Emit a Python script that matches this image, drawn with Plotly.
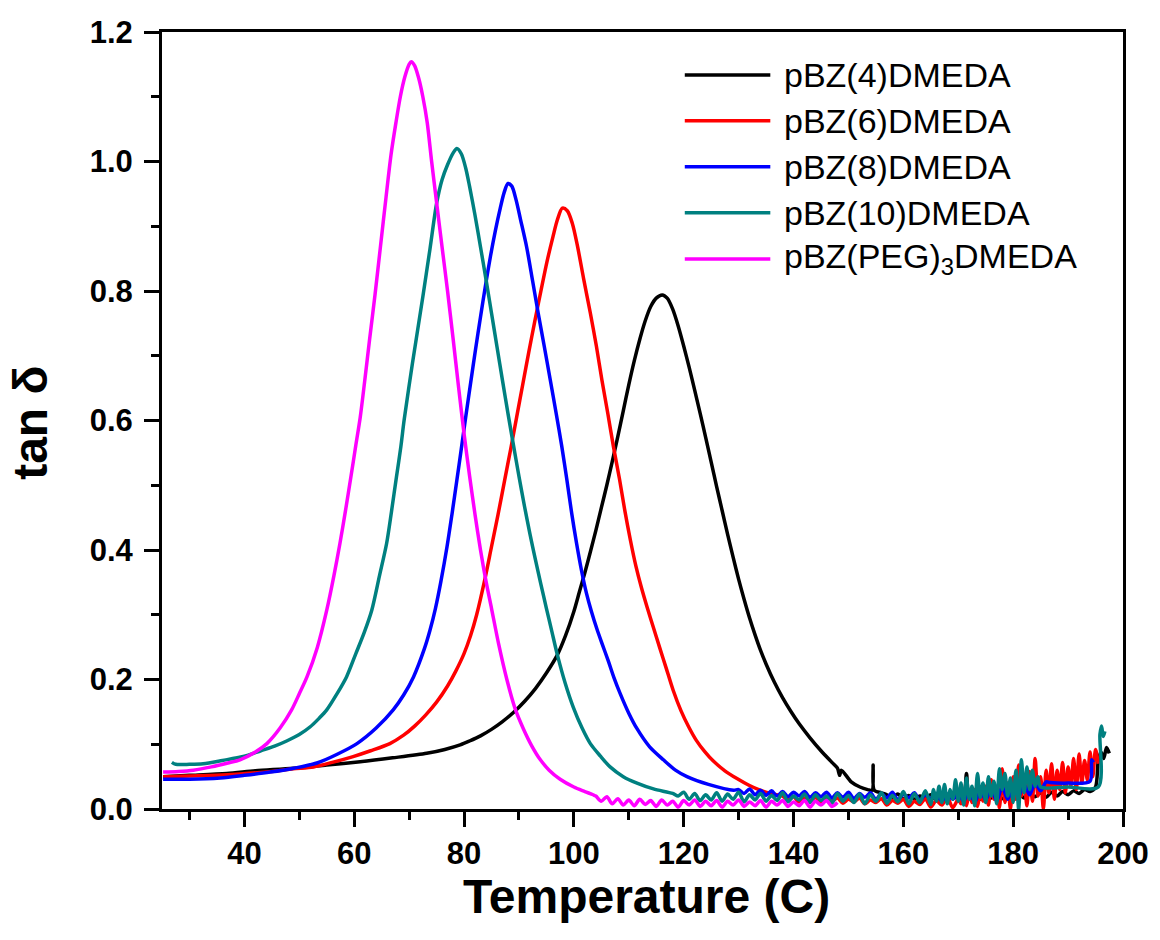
import plotly.graph_objects as go

# ---- tan delta vs temperature (DMA) ----
series_names = ["pBZ(4)DMEDA", "pBZ(6)DMEDA", "pBZ(8)DMEDA", "pBZ(10)DMEDA",
                "pBZ(PEG)<sub>3</sub>DMEDA"]
series_colors = ["#000000", "#FF0000", "#0000FF", "#008080", "#FF00FF"]

# pBZ(4)DMEDA
t_c4 = [25.2, 30, 36.8, 42, 48.9, 55, 61.1, 67, 73.2, 76.5, 79.3, 81, 83, 85, 87, 89,
        91, 93, 95, 97, 98.5, 100, 101, 102, 103, 104, 105, 106, 107, 108, 109,
        110, 111, 112, 113, 114, 115, 116.1, 117, 118, 119, 120, 121, 122, 123, 124,
        125, 126, 127, 128, 129, 130, 131, 132, 133, 134, 135, 136.5, 138, 139.5,
        141, 143, 145, 147, 148.0, 148.4, 148.7, 150.5, 152.1, 153.5, 154.3, 154.5,
        154.7, 156,
        157, 158, 159, 160, 161, 162, 163, 164, 165, 166, 167, 168, 169, 170, 171,
        171.5, 172, 173, 174, 175, 176, 177, 178, 179, 180, 181, 182, 183, 184, 185,
        186, 187, 188, 189, 190, 191, 192, 193, 194, 195, 195.5, 196, 196.5, 197, 197.5]
v_c4 = [0.050, 0.052, 0.055, 0.059, 0.063, 0.068, 0.073, 0.079, 0.086, 0.092, 0.099,
        0.105, 0.113, 0.123, 0.135, 0.149, 0.166, 0.186, 0.210, 0.238, 0.268, 0.305,
        0.335, 0.365, 0.397, 0.43, 0.465, 0.50, 0.537, 0.575, 0.615, 0.655, 0.692,
        0.725, 0.754, 0.776, 0.789, 0.794, 0.789, 0.772, 0.746, 0.715, 0.682, 0.647,
        0.611, 0.574, 0.536, 0.498, 0.461, 0.424, 0.389, 0.355, 0.324, 0.295, 0.269,
        0.245, 0.224, 0.196, 0.172, 0.151, 0.132, 0.110, 0.090, 0.072, 0.063, 0.052,
        0.060, 0.042, 0.034, 0.030, 0.029, 0.068, 0.029, 0.025,
        0.022, 0.018, 0.023, 0.016, 0.021, 0.015, 0.020, 0.017, 0.022, 0.014, 0.020,
        0.016, 0.021, 0.015, 0.020,
        0.055, 0.018, 0.022, 0.015, 0.021, 0.017, 0.023, 0.016, 0.022, 0.018, 0.024,
        0.017, 0.023, 0.019, 0.025, 0.018, 0.026, 0.020, 0.027, 0.022, 0.028, 0.024,
        0.030, 0.027, 0.034, 0.075, 0.088, 0.078, 0.095, 0.086]

# pBZ(6)DMEDA
t_c6 = [25.2, 30, 35, 39.2, 45, 48.9, 52.6, 56, 59.8, 63, 66.5, 69, 71, 73, 75, 77,
        78.5, 80, 81.2, 82.3, 83.8, 85.0, 86.2, 87.4, 88.5, 89.6, 90.7, 91.8, 92.9,
        94.0, 95.1, 96.2, 97.0, 97.9, 98.8, 99.7, 100.6, 101.8, 103.0, 104.1, 105.1,
        106.2, 107.2, 108.3, 109.3, 110.3, 111.3, 112.3, 113.4, 114.5, 115.6, 116.8,
        118.1, 119.5, 120.9, 122.3, 123.8, 125.4, 127.5, 129.7, 131.8, 133.9, 135.8,
        137.6,
        138, 139, 140, 141, 142, 143, 144, 145, 146, 147, 148, 149, 150, 151, 152,
        153, 154, 155, 156, 157, 158, 159, 160, 161, 162, 163, 164, 165, 166, 167,
        168, 169, 170,
        170.5, 171, 171.5, 172, 172.5, 173, 173.5, 174, 174.5, 175, 175.5, 176, 176.5,
        177, 177.5, 178, 178.5, 179, 179.5, 180, 180.5, 181, 181.5, 182, 182.5, 183,
        183.5, 184, 184.5, 185, 185.5, 186, 186.5, 187, 187.5, 188, 188.5, 189, 189.5,
        190, 190.5, 191, 191.5, 192, 192.5, 193, 193.5, 194, 194.5, 195, 195.5]
v_c6 = [0.050, 0.051, 0.052, 0.054, 0.058, 0.062, 0.065, 0.072, 0.081, 0.090, 0.101,
        0.114, 0.128, 0.145, 0.165, 0.19, 0.213, 0.24, 0.268, 0.30, 0.355, 0.405,
        0.455, 0.508, 0.556, 0.606, 0.656, 0.706, 0.754, 0.80, 0.845, 0.884, 0.910,
        0.928, 0.924, 0.905, 0.872, 0.818, 0.766, 0.715, 0.663, 0.61, 0.560, 0.51,
        0.46, 0.415, 0.375, 0.342, 0.31, 0.28, 0.25, 0.218, 0.183, 0.152, 0.127,
        0.106, 0.089, 0.074, 0.059, 0.047, 0.037, 0.029, 0.024, 0.021,
        0.020, 0.014, 0.019, 0.011, 0.017, 0.012, 0.018, 0.010, 0.016, 0.012, 0.017,
        0.009, 0.015, 0.011, 0.017, 0.008, 0.014, 0.010, 0.016, 0.006, 0.013, 0.009,
        0.015, 0.004, 0.012, 0.007, 0.016, 0.003, 0.013, 0.006, 0.018, 0.002, 0.015,
        0.008, 0.022, 0.005, 0.026, 0.010, 0.030, 0.004, 0.024, 0.012, 0.035, 0.006,
        0.045, 0.015, 0.030, 0.002, 0.062, 0.010, 0.040, 0.000, 0.050, 0.015, 0.068,
        0.020, 0.045, 0.005, 0.058, 0.012, 0.078, 0.020, 0.050, 0.000, 0.060, 0.025,
        0.070, 0.015, 0.060, 0.030, 0.072, 0.025, 0.065, 0.035, 0.078, 0.030, 0.085,
        0.040, 0.075, 0.045, 0.088, 0.050, 0.092, 0.070]

# pBZ(8)DMEDA
t_c8 = [25.2, 30, 35.6, 40, 44.7, 49, 53.2, 57, 60.5, 64, 67.1, 69, 70.8, 72.8, 73.8,
        74.8, 75.8, 76.9, 77.8, 78.7, 79.5, 80.3, 81.2, 82.1, 83.0, 83.9, 84.8, 85.7,
        86.6, 87.3, 88.0, 88.7, 89.5, 90.3, 91.4, 92.5, 93.5, 94.6, 95.7, 96.8, 97.8,
        98.7, 99.6, 100.5, 101.4, 102.3, 103.2, 104.2, 105.2, 106.3, 107.3, 108.4,
        110, 111.5, 113.8, 116.3, 118.5, 120.6, 124.5, 129.1,
        130, 131, 132, 133, 134, 135, 136, 137, 138, 139, 140, 141, 142, 143, 144, 145,
        146, 147, 148, 149, 150, 151, 152, 153, 154, 155, 156, 157, 158, 159, 160, 161,
        162, 163, 164, 165, 166, 167, 168, 169, 170, 171, 172, 173, 174, 175, 176, 177,
        178, 179, 180, 181, 182, 183, 184, 185, 186, 186.7, 190, 194.0, 194.3, 194.6]
v_c8 = [0.046, 0.046, 0.048, 0.052, 0.057, 0.063, 0.071, 0.085, 0.101, 0.125, 0.153,
        0.176, 0.204, 0.248, 0.276, 0.31, 0.352, 0.405, 0.455, 0.508, 0.556, 0.605,
        0.658, 0.71, 0.76, 0.808, 0.853, 0.893, 0.928, 0.952, 0.966, 0.962, 0.94,
        0.91, 0.868, 0.815, 0.766, 0.715, 0.663, 0.61, 0.560, 0.51, 0.457, 0.41,
        0.368, 0.333, 0.305, 0.278, 0.254, 0.228, 0.203, 0.179, 0.148, 0.124, 0.096,
        0.076, 0.060, 0.050, 0.038, 0.029,
        0.030, 0.024, 0.031, 0.022, 0.029, 0.021, 0.028, 0.020, 0.027, 0.019, 0.026,
        0.020, 0.027, 0.018, 0.025, 0.019, 0.026, 0.017, 0.025, 0.018, 0.026, 0.016,
        0.024, 0.018, 0.025, 0.015, 0.024, 0.017, 0.026, 0.014, 0.023, 0.017, 0.025,
        0.013, 0.022, 0.016, 0.024, 0.012, 0.023, 0.015, 0.025,
        0.012, 0.028, 0.010, 0.030, 0.014, 0.032, 0.012, 0.035, 0.015, 0.033, 0.020,
        0.038, 0.022, 0.040, 0.028, 0.042, 0.041, 0.040, 0.043, 0.076, 0.072]

# pBZ(10)DMEDA
t_c10 = [26.8, 27.5, 30, 32.5, 36, 39.8, 43, 45.5, 47.7, 50, 52, 53.6, 55, 56.8, 58.6,
         60.3, 61.8, 63.2, 64.6, 65.9, 66.8, 67.7, 68.5, 69.1, 70.6, 72.5, 73.8, 75.0,
         76.0, 77.0, 78.0, 78.7, 79.5, 80.3, 81.0, 82.0, 83.0, 84.0, 85.0, 86.0, 87.0,
         88.0, 89.0, 90.0, 91.0, 92.0, 93.0, 94.0, 95.0, 96.0, 97.0, 98.4, 99.9, 101.5,
         103.0, 104.8, 106.6, 109, 111.5, 114.5, 118,
         119, 120, 121, 122, 123, 124, 125, 126, 127, 128, 129, 130, 131, 132, 133, 134,
         135, 136, 137, 138, 139, 140, 141, 142, 143, 144, 145, 146, 147, 148, 149, 150,
         151, 152, 153, 154, 155, 156, 157, 158, 159, 160, 161, 162, 163, 164, 165,
         165.5, 166, 166.5, 167, 167.5, 168, 168.5, 169, 169.5, 170, 170.5, 171, 171.5,
         172, 172.5, 173, 173.5, 174, 174.5, 175, 175.5, 176, 176.5, 177, 177.5, 178,
         178.5, 179, 179.5, 180, 180.5, 181, 181.5, 182, 182.5, 183, 183.5, 184, 184.5,
         185, 190, 195.5, 195.8, 196.1, 196.4, 196.7]
v_c10 = [0.072, 0.069, 0.069, 0.070, 0.075, 0.081, 0.090, 0.097, 0.105, 0.115, 0.127,
         0.140, 0.153, 0.177, 0.204, 0.24, 0.272, 0.307, 0.36, 0.41, 0.46, 0.513, 0.56,
         0.601, 0.688, 0.791, 0.865, 0.935, 0.972, 0.995, 1.013, 1.020, 1.012, 0.99,
         0.962, 0.917, 0.868, 0.818, 0.766, 0.714, 0.662, 0.611, 0.562, 0.514, 0.468,
         0.425, 0.385, 0.347, 0.31, 0.274, 0.238, 0.195, 0.157, 0.125, 0.101, 0.082,
         0.065, 0.050, 0.040, 0.031, 0.024,
         0.020, 0.026, 0.015, 0.024, 0.013, 0.022, 0.014, 0.025, 0.012, 0.023, 0.015,
         0.026, 0.011, 0.022, 0.014, 0.024, 0.012, 0.021, 0.013, 0.025, 0.011, 0.020,
         0.014, 0.023, 0.010, 0.022, 0.013, 0.020, 0.009, 0.024, 0.012, 0.021, 0.010,
         0.023, 0.008, 0.022, 0.012, 0.025, 0.009, 0.021, 0.011, 0.027, 0.008, 0.024,
         0.010, 0.028, 0.007,
         0.030, 0.012, 0.035, 0.010, 0.038, 0.008, 0.030, 0.015, 0.045, 0.012, 0.040,
         0.006, 0.048, 0.015, 0.035, 0.005, 0.055, 0.018, 0.040, 0.010, 0.050, 0.020,
         0.043, 0.008, 0.062, 0.030, 0.055, 0.020, 0.048, 0.010, 0.060, 0.000, 0.076,
         0.025, 0.065, 0.030, 0.060, 0.035, 0.050, 0.034, 0.034, 0.034, 0.115, 0.128,
         0.112, 0.120]

# pBZ(PEG)3DMEDA
t_peg = [25.2, 28, 30.7, 34, 37, 39.2, 42, 44.1, 46.5, 48.6, 50, 51.4, 53.3, 55, 56.3,
         57.4, 58.4, 59.4, 60.3, 61.1, 61.9, 62.8, 63.8, 64.8, 65.8, 66.7, 67.6, 68.4,
         69.2, 70.0, 70.4, 71.0, 71.7, 72.5, 73.3, 74.1, 75.0, 76.0, 77.0, 78.0, 79.0,
         80.0, 81.0, 82.0, 83.0, 84.0, 85.0, 86.3, 87.8, 89.3, 90.8, 92.3, 93.9, 95.5,
         97.5, 100, 102, 103.5,
         104, 105, 106, 107, 108, 109, 110, 111, 112, 113, 114, 115, 116, 117, 118, 119,
         120, 121, 122, 123, 124, 125, 126, 127, 128, 129, 130, 131, 132, 133, 134, 135,
         136, 137, 138, 139, 140, 141, 142, 143, 144, 145, 146, 147, 148]
v_peg = [0.057, 0.058, 0.060, 0.065, 0.071, 0.076, 0.088, 0.101, 0.125, 0.153, 0.178,
         0.204, 0.25, 0.307, 0.36, 0.41, 0.46, 0.513, 0.562, 0.605, 0.66, 0.725, 0.795,
         0.87, 0.945, 1.01, 1.06, 1.10, 1.13, 1.15, 1.154, 1.148, 1.13, 1.10, 1.06,
         1.0, 0.937, 0.868, 0.80, 0.727, 0.652, 0.58, 0.515, 0.455, 0.40, 0.352, 0.31,
         0.255, 0.20, 0.155, 0.124, 0.098, 0.076, 0.060, 0.046, 0.034, 0.027, 0.022,
         0.020, 0.012, 0.019, 0.008, 0.016, 0.006, 0.014, 0.005, 0.015, 0.007, 0.013,
         0.004, 0.014, 0.006, 0.012, 0.003, 0.013, 0.006, 0.014, 0.004, 0.012, 0.005,
         0.013, 0.003, 0.012, 0.006, 0.014, 0.004, 0.011, 0.005, 0.013, 0.003, 0.012,
         0.006, 0.013, 0.004, 0.011, 0.005, 0.013, 0.003, 0.012, 0.006, 0.013, 0.004,
         0.010]

xs = [t_c4, t_c6, t_c8, t_c10, t_peg]
ys = [v_c4, v_c6, v_c8, v_c10, v_peg]

fig = go.Figure()
for name, color, x, y in zip(series_names, series_colors, xs, ys):
    fig.add_trace(go.Scatter(x=x, y=y, mode="lines", name=name,
                             line=dict(color=color, width=3.5,
                                       shape="spline", smoothing=0.8),
                             showlegend=False))

FONT = "Liberation Sans, Arial"

# Legend drawn as line samples + labels in the upper right
legend_rows = [0.9447, 0.8858, 0.8266, 0.7674, 0.7079]
for name, color, yy in zip(series_names, series_colors, legend_rows):
    fig.add_shape(type="line", xref="paper", yref="paper",
                  x0=0.544, x1=0.633, y0=yy, y1=yy,
                  line=dict(color=color, width=3.5))
    fig.add_annotation(xref="paper", yref="paper", x=0.645, y=yy,
                       xanchor="left", yanchor="middle", showarrow=False,
                       text=name,
                       font=dict(family=FONT, size=34, color="black"))

tick_font = dict(family=FONT, size=31, color="black", weight="bold")
title_font = dict(family=FONT, size=48, color="black", weight="bold")

# Axis titles
fig.add_annotation(xref="paper", yref="paper", x=0.504, y=-0.076,
                   xanchor="center", yanchor="top", showarrow=False,
                   text="Temperature (C)", font=title_font)
fig.add_annotation(xref="paper", yref="paper", x=-0.1363, y=0.497,
                   xanchor="center", yanchor="middle", showarrow=False,
                   textangle=-90, text="tan δ", font=title_font)

axis_common = dict(showline=True, linewidth=3, linecolor="black", mirror=True,
                   showgrid=False, zeroline=False, ticks="outside", ticklen=15,
                   tickwidth=3, tickcolor="black", tickfont=tick_font)

fig.update_xaxes(range=[25, 200], dtick=20, tick0=0,
                 minor=dict(dtick=10, ticks="outside", ticklen=8, tickwidth=3,
                            tickcolor="black"),
                 ticklabelstandoff=0,
                 **axis_common)
fig.update_yaxes(range=[0, 1.2], dtick=0.2, tick0=0, tickformat=".1f",
                 minor=dict(dtick=0.1, ticks="outside", ticklen=8, tickwidth=3,
                            tickcolor="black"),
                 ticklabelstandoff=5,
                 **axis_common)

fig.update_layout(width=1160, height=940,
                  margin=dict(l=162, r=37, t=32, b=131),
                  plot_bgcolor="white", paper_bgcolor="white",
                  showlegend=False)

fig.write_html("out.html")
